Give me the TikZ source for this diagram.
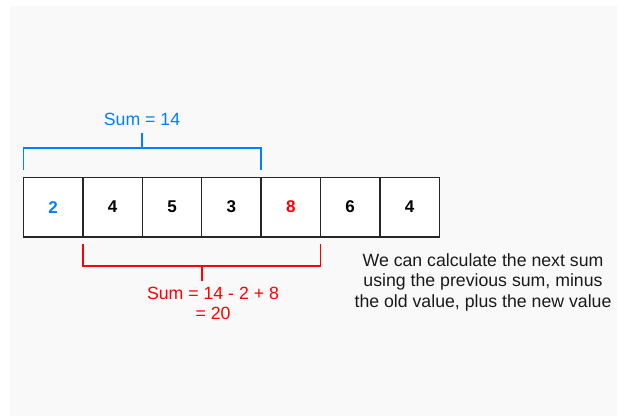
\documentclass[tikz,border=0pt]{standalone}
\usepackage{fontspec}
\setmainfont{Liberation Sans}
\usetikzlibrary{calc}
\definecolor{bgc}{HTML}{F9F9F9}
\definecolor{sblue}{HTML}{007FFF}
\definecolor{sred}{HTML}{FF0000}
\definecolor{txt}{HTML}{1A1A1A}
\tikzset{
  cell/.style={draw=black!85, fill=white, line width=1.4pt, minimum width=59.4pt, minimum height=59.4pt,
    inner sep=0pt, outer sep=0pt, font=\fontsize{17}{20}\selectfont\bfseries},
  bracketblue/.style={draw=sblue, line width=1.8pt},
  bracketred/.style={draw=sred, line width=1.6pt},
  lbl/.style={font=\fontsize{17.7}{20.5}\selectfont, align=center, inner sep=0pt}
}
\begin{document}
\begin{tikzpicture}[x=1pt,y=-1pt]
\useasboundingbox (0,0) rectangle (617,416);
\fill[bgc] (10,6) rectangle (617,416);
% cells
\node[cell, text=sblue] (c1) at (53.2,207.1) {2};
\node[cell] (c2) at (112.6,207.1) {4};
\node[cell] (c3) at (172.0,207.1) {5};
\node[cell] (c4) at (231.4,207.1) {3};
\node[cell, text=sred] (c5) at (290.8,207.1) {8};
\node[cell] (c6) at (350.2,207.1) {6};
\node[cell] (c7) at (409.6,207.1) {4};
% blue bracket
\coordinate (b1) at ($(c1.north west)+(0,-7.4)$);
\coordinate (b2) at ($(c4.north east)+(0,-7.4)$);
\coordinate (bm) at ($(c3.north west)+(0,-29.4)$);
\draw[bracketblue] (b1) |- (bm) -| (b2);
\node[lbl, text=sblue] (sumblue) at (142,119) {Sum = 14};
\draw[bracketblue] (bm) -- ($(bm)+(0,-14.6)$);
% red bracket
\coordinate (r1) at ($(c2.south west)+(0,7.5)$);
\coordinate (r2) at ($(c5.south east)+(0,7.5)$);
\coordinate (rm) at ($(c4.south west)+(0,29.2)$);
\draw[bracketred] (r1) |- (rm) -| (r2);
\draw[bracketred] (rm) -- ($(rm)+(0,15)$);
\node[lbl, text=sred] (sumred) at (213,303.3) {Sum = 14 - 2 + 8\\= 20};
% explanation
\node[lbl, text=txt] (expl) at (483,282) {We can calculate the next sum\\using the previous sum, minus\\the old value, plus the new value};
\end{tikzpicture}
\end{document}
